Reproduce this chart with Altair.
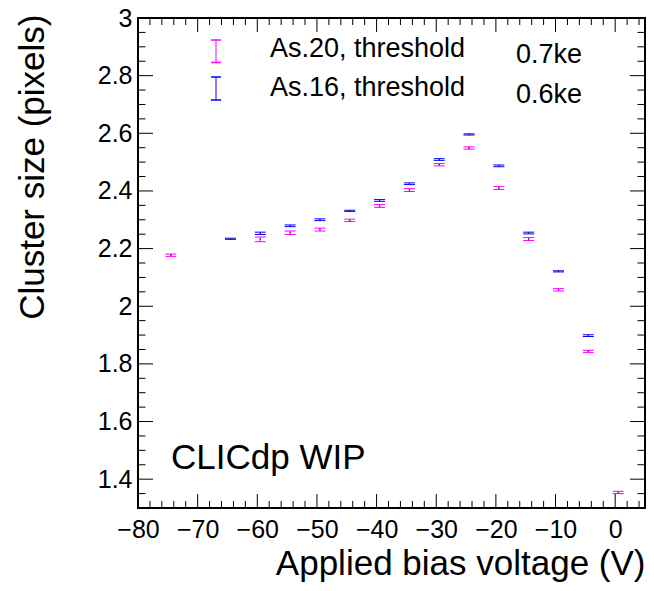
import altair as alt
import pandas as pd

# ---- data ----
voltage_as20 = [-74.5, -59.5, -54.5, -49.5, -44.5, -39.5, -34.5, -29.5, -24.5, -19.5, -14.5, -9.5, -4.5, 0.5]
size_as20 = [2.177, 2.232, 2.255, 2.266, 2.298, 2.348, 2.403, 2.491, 2.549, 2.410, 2.233, 2.057, 1.843, 1.354]
err_as20 = [0.004, 0.008, 0.006, 0.005, 0.004, 0.005, 0.005, 0.004, 0.004, 0.005, 0.005, 0.004, 0.004, 0.004]

voltage_as16 = [-64.5, -59.5, -54.5, -49.5, -44.5, -39.5, -34.5, -29.5, -24.5, -19.5, -14.5, -9.5, -4.5]
size_as16 = [2.234, 2.253, 2.279, 2.300, 2.331, 2.367, 2.425, 2.509, 2.596, 2.487, 2.254, 2.121, 1.898]
err_as16 = [0.002, 0.004, 0.003, 0.003, 0.002, 0.003, 0.003, 0.003, 0.002, 0.003, 0.003, 0.002, 0.003]

series_names = ["As.20", "As.16"]
series_colors = ["#ff00ff", "#0000ff"]
legend_labels = ["As.20, threshold", "As.16, threshold"]
legend_thresholds = ["0.7ke", "0.6ke"]
annotation = ["CLICdp WIP"]

x_major = [-80, -70, -60, -50, -40, -30, -20, -10, 0]
x_minor = [v for v in range(-80, 5, 2) if v % 10 != 0]
y_major = [1.4, 1.6, 1.8, 2.0, 2.2, 2.4, 2.6, 2.8, 3.0]
y_minor = [1.35, 1.45, 1.5, 1.55, 1.65, 1.7, 1.75, 1.85, 1.9, 1.95, 2.05, 2.1, 2.15,
           2.25, 2.3, 2.35, 2.45, 2.5, 2.55, 2.65, 2.7, 2.75, 2.85, 2.9, 2.95]

FONT = "Liberation Sans"
W, H = 507, 490

rows = []
for v, s, e in zip(voltage_as20, size_as20, err_as20):
    rows.append({"V": v, "y": s, "lo": s - e, "hi": s + e, "series": series_names[0]})
for v, s, e in zip(voltage_as16, size_as16, err_as16):
    rows.append({"V": v, "y": s, "lo": s - e, "hi": s + e, "series": series_names[1]})
df = pd.DataFrame(rows)

xs = alt.Scale(domain=[-80, 5], nice=False, zero=False)
ys = alt.Scale(domain=[1.3, 3.0], nice=False, zero=False)
cs = alt.Scale(domain=series_names, range=series_colors)

x_axis = alt.Axis(values=x_major, format="d", ticks=False, tickSize=0, domain=False, grid=False,
                  labelFont=FONT, labelFontSize=25, labelPadding=9, labelColor="black",
                  labelFlush=False, labelOverlap=False,
                  title="Applied bias voltage (V)", titleFont=FONT, titleFontSize=35,
                  titleFontWeight="normal", titleColor="black", titleX=W, titleY=66,
                  titleAlign="right", titleBaseline="alphabetic")
y_axis = alt.Axis(values=y_major, format="~g", ticks=False, tickSize=0, domain=False, grid=False,
                  labelFont=FONT, labelFontSize=25, labelPadding=6, labelColor="black",
                  labelFlush=False, labelOverlap=False,
                  title="Cluster size (pixels)", titleFont=FONT, titleFontSize=35,
                  titleFontWeight="normal", titleColor="black", titleX=-95, titleY=-4,
                  titleAngle=270, titleAlign="right", titleBaseline="alphabetic")


def X(field):
    return alt.X(field, scale=xs, axis=x_axis)


def Y(field):
    return alt.Y(field, scale=ys, axis=y_axis)


color_enc = alt.Color("series:N", scale=cs, legend=None)

bars = alt.Chart(df).mark_rule(strokeWidth=1).encode(
    x=X("V:Q"), y=Y("lo:Q"), y2="hi:Q", color=color_enc)
cap_lo = alt.Chart(df).mark_rule(strokeWidth=1, xOffset=-5.5, x2Offset=5.5).encode(
    x=X("V:Q"), x2="V:Q", y=Y("lo:Q"), color=color_enc)
cap_hi = alt.Chart(df).mark_rule(strokeWidth=1, xOffset=-5.5, x2Offset=5.5).encode(
    x=X("V:Q"), x2="V:Q", y=Y("hi:Q"), color=color_enc)
dots = alt.Chart(df).mark_square(size=2, opacity=0.8).encode(
    x=X("V:Q"), y=Y("y:Q"), color=alt.value("#333333"))


# ---- inward ticks on all four sides ----
def xticks(vals, length, top):
    d = pd.DataFrame({"t": vals})
    if top:
        yy, yy2 = alt.value(0), alt.value(length)
    else:
        yy, yy2 = alt.value(H), alt.value(H - length)
    return alt.Chart(d).mark_rule(color="black", strokeWidth=1).encode(
        x=X("t:Q"), y=yy, y2=yy2)


def yticks(vals, length, right):
    d = pd.DataFrame({"t": vals})
    if right:
        xx, xx2 = alt.value(W), alt.value(W - length)
    else:
        xx, xx2 = alt.value(0), alt.value(length)
    return alt.Chart(d).mark_rule(color="black", strokeWidth=1).encode(
        y=Y("t:Q"), x=xx, x2=xx2)


ticks = [
    xticks(x_major, 14, False), xticks(x_minor, 7, False),
    xticks(x_major, 14, True), xticks(x_minor, 7, True),
    yticks(y_major, 15, False), yticks(y_minor, 7.5, False),
    yticks(y_major, 15, True), yticks(y_minor, 7.5, True),
]


# ---- legend ----
def text_layer(txt, x, y, size, align="left"):
    return alt.Chart(pd.DataFrame({"t": [txt]})).mark_text(
        font=FONT, fontSize=size, align=align, baseline="alphabetic", color="black"
    ).encode(text="t:N", x=alt.value(x), y=alt.value(y))


def legend_marker(color, y_top, y_bot, x=78, half=5):
    d = pd.DataFrame({"c": [color]})
    v = alt.Chart(d).mark_rule(color=color, strokeWidth=1).encode(
        x=alt.value(x), y=alt.value(y_top), y2=alt.value(y_bot))
    c1 = alt.Chart(d).mark_rule(color=color, strokeWidth=1.5).encode(
        x=alt.value(x - half), x2=alt.value(x + half), y=alt.value(y_top))
    c2 = alt.Chart(d).mark_rule(color=color, strokeWidth=1.5).encode(
        x=alt.value(x - half), x2=alt.value(x + half), y=alt.value(y_bot))
    return [v, c1, c2]


legend = (
    legend_marker(series_colors[0], 22, 44.5)
    + legend_marker(series_colors[1], 59, 82)
    + [
        text_layer(legend_labels[0], 132, 39, 27),
        text_layer(legend_thresholds[0], 378, 45, 27),
        text_layer(legend_labels[1], 132, 78, 27),
        text_layer(legend_thresholds[1], 378, 85, 27),
        text_layer(annotation[0], 33, 451, 35),
    ]
)

chart = alt.layer(bars, cap_lo, cap_hi, dots, *ticks, *legend).properties(
    width=W, height=H,
    padding={"left": 130, "top": 10, "right": 1, "bottom": 75},
    autosize=alt.AutoSizeParams(type="none"),
    background="white",
).configure_view(stroke="black", strokeWidth=2)

chart.save("out.html", embed_options={"renderer": "svg", "actions": False})
